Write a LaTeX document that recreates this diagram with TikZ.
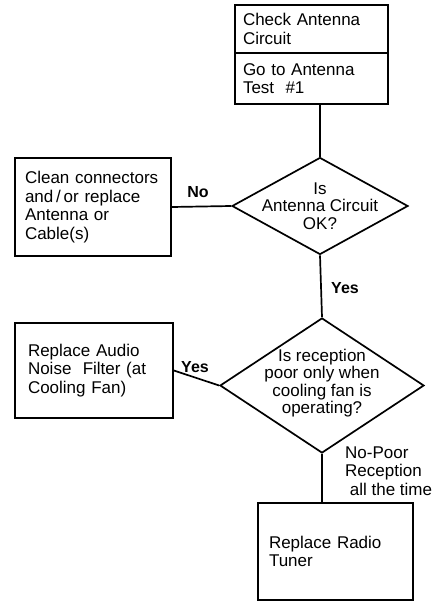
\documentclass[tikz,border=0pt]{standalone}
\usepackage{fontspec}
\setmainfont{Liberation Sans}
\usetikzlibrary{shapes.geometric}

\tikzset{
  actbox/.style={draw, line width=1.7pt, align=left, inner ysep=0pt,
    font=\fontsize{17}{18.5}\selectfont},
  decision/.style={draw, diamond, line width=1.7pt, inner sep=0pt},
  ask/.style={align=center, inner sep=0pt, font=\fontsize{17}{17.2}\selectfont},
  answer/.style={inner sep=0pt, font=\bfseries\fontsize{16}{18}\selectfont},
  flow/.style={line width=1.7pt},
}

\begin{document}
\begin{tikzpicture}[x=1pt, y=-1pt]
  \useasboundingbox (0,0) rectangle (446,602);

  % action boxes
  \node[actbox, inner xsep=8pt, text width=137pt, minimum height=48pt] (checkbox) at (311.5,29)
    {Check Antenna\\Circuit};
  \node[actbox, inner xsep=8pt, text width=137pt, minimum height=51pt] (gobox) at (311.5,78.5)
    {Go to Antenna\\Test~ \#1};
  \node[actbox, inner xsep=10pt, text width=136pt, minimum height=98pt] (cleanbox) at (93,207)
    {Clean connectors\\and\thinspace/\thinspace or replace\\Antenna or\\Cable(s)};
  \node[actbox, inner xsep=13pt, text width=132pt, minimum height=95pt] (audiobox) at (94,370.5)
    {Replace Audio\\Noise~ Filter (at\\Cooling Fan)};
  \node[actbox, inner xsep=11pt, text width=133pt, minimum height=97pt] (tunerbox) at (335.5,551.5)
    {Replace Radio\\Tuner};

  % decisions
  \node[decision, minimum width=176pt, minimum height=97pt] (dia1) at (320,206) {};
  \node[ask, font=\fontsize{17}{17.5}\selectfont] (dia1txt) at (dia1.center) {Is\\Antenna Circuit\\OK?};
  \node[decision, minimum width=204pt, minimum height=135pt] (dia2) at (322,385.5) {};
  \node[ask] (dia2txt) at (322,383) {Is reception\\poor only when\\cooling fan is\\operating?};

  % connectors
  \draw[flow] (dia1.north |- gobox.south) -- (dia1.north);
  \draw[flow] (dia1.west) -- (cleanbox.east);
  \draw[flow] (dia1.south) -- (dia2.north);
  \draw[flow] (dia2.west) -- (audiobox.east);
  \draw[flow] (dia2.south) -- (dia2.south |- tunerbox.north);

  % answers
  \node[answer] (nolbl) at (198,192) {No};
  \node[answer] (yeslbl1) at (345,288) {Yes};
  \node[answer] (yeslbl2) at (195,367) {Yes};
  \node[align=left, anchor=west, inner sep=0pt, font=\fontsize{17}{18.5}\selectfont] (poorlbl) at (345,471)
    {No-Poor\\Reception\\\ all the time};
\end{tikzpicture}
\end{document}
